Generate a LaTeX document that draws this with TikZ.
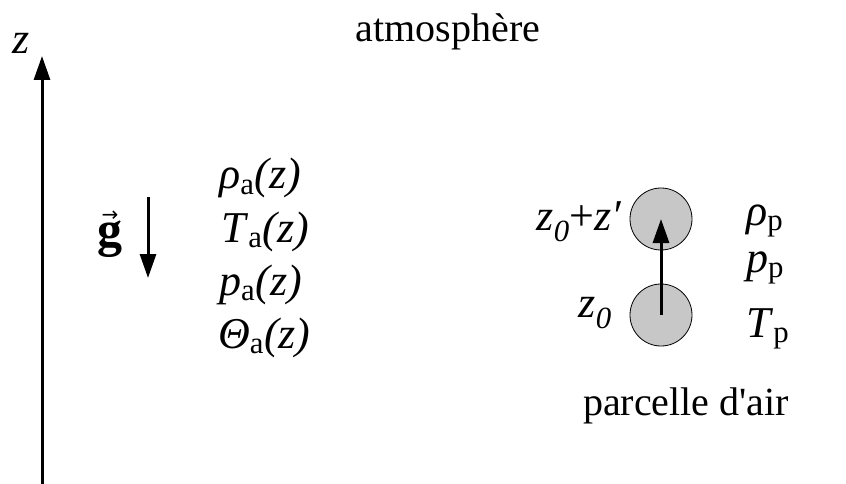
\documentclass[tikz,border=0pt]{standalone}
\usepackage{fontspec}
\setmainfont{Liberation Serif}
\newfontfamily\arrowfont{DejaVu Sans}
\usetikzlibrary{arrows.meta}
\newcommand\qa[1]{\textit{#1}\textsubscript{a}\textit{(z)}}
\newcommand\qp[1]{\textit{#1}\textsubscript{p}}
\newcommand\vecg{\setbox0\hbox{\textbf{g}}%
  \rlap{\hbox to \wd0{\hss\raisebox{25pt}{\arrowfont\fontsize{20}{20}\selectfont →}\hss}}\box0}

\begin{document}
\begin{tikzpicture}[x=1pt, y=-1pt,
    lab/.style={inner sep=0pt, anchor=base, font=\fontsize{40}{48}\selectfont},
    sym/.style={lab, font=\fontsize{44}{52}\selectfont},
    bigarrow/.style={line width=3pt, -{Triangle[length=24pt,width=16pt]}},
    parcel/.style={circle, draw, line width=0.8pt, fill=black!22, minimum size=62pt, inner sep=0pt}]
  \useasboundingbox (0,0) rectangle (846,484);
  % ---- axis and title -------------------------------------------------
  \coordinate (zbot) at (42,486);
  \coordinate (ztop) at (42,56);
  \draw[bigarrow] (zbot) -- (ztop);
  \node[sym] (zlab) at (21,54) {\textit{z}};
  \node[lab] (title) at (448,42) {atmosphère};
  % ---- gravity ----------------------------------------------------------
  \node[lab, font=\fontsize{50}{56}\selectfont] (g) at (110,246) {\vecg};
  \coordinate (gtop) at (148,197);
  \coordinate (gbot) at (148,278);
  \draw[bigarrow] (gtop) -- (gbot);
  % ---- ambient profiles ---------------------------------------------------
  \node[sym, anchor=base west] (rhoa) at (219,189) {\qa{ρ}};
  \node[sym, anchor=base west] (Ta)   at (221,242) {\qa{T}};
  \node[sym, anchor=base west] (pa)   at (219,295) {\qa{p}};
  \node[sym, anchor=base west] (tha)  at (218,348) {\qa{Θ}};
  % ---- air parcel -------------------------------------------------------
  \node[parcel] (up)  at (661,219) {};
  \node[parcel] (low) at (661,315) {};
  \draw[bigarrow] (low.center) -- (up.center);
  \node[sym, anchor=base east] (zup)  at (622,230) {\textit{z}\textsubscript{\textit{0}}+\textit{z′}};
  \node[sym, anchor=base east] (zlow) at (612,317) {\textit{z}\textsubscript{\textit{0}}};
  \node[sym, anchor=base west] (rhop) at (746,225) {\qp{ρ}};
  \node[sym, anchor=base west] (pp)   at (746,272) {\qp{p}};
  \node[sym, anchor=base west] (Tp)   at (746,337) {\qp{T}};
  \node[lab] (parc) at (686,415) {parcelle d\textquotesingle air};
\end{tikzpicture}
\end{document}
